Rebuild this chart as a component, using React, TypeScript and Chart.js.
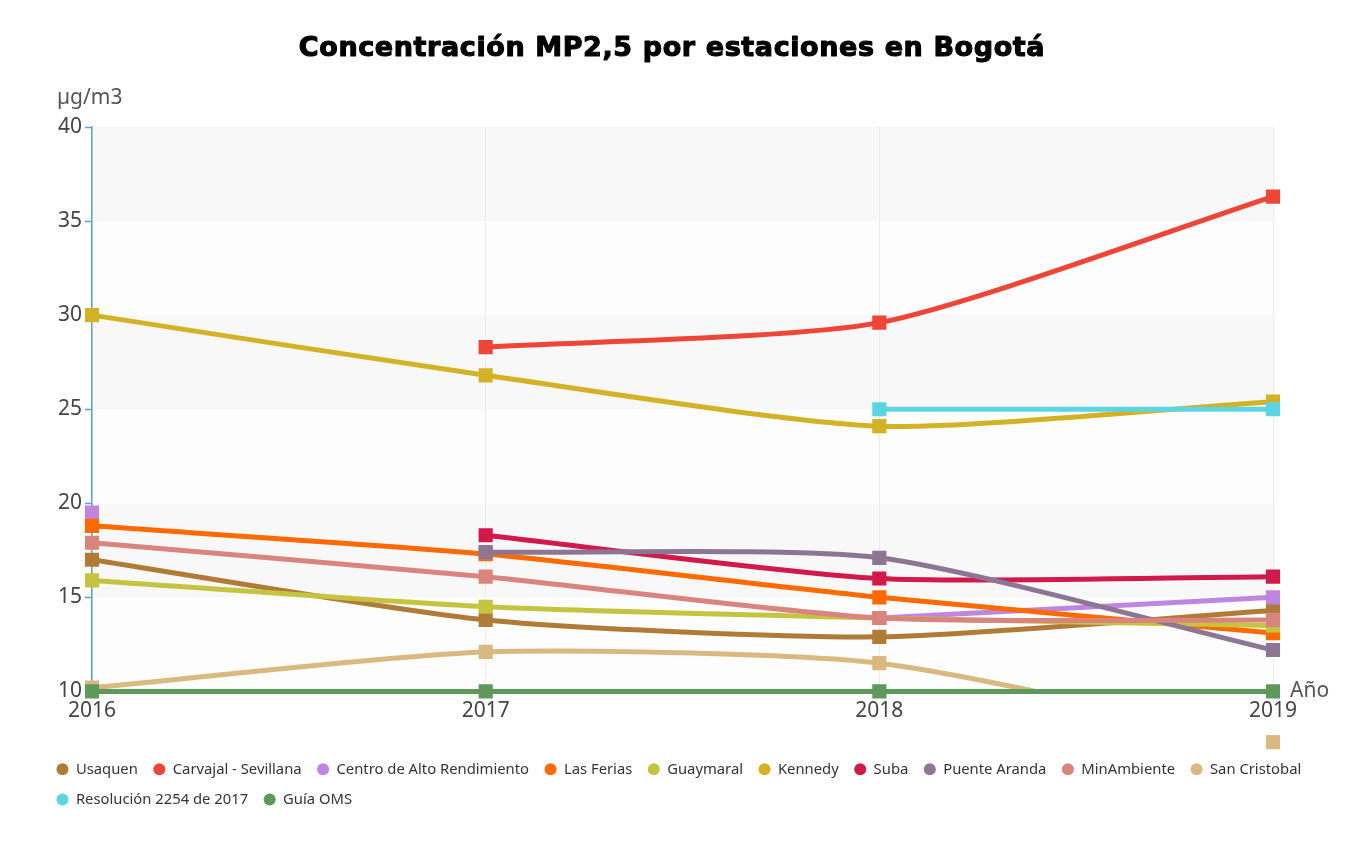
import React, { useEffect, useRef } from "react";
import { Chart, registerables } from "chart.js";

Chart.register(...registerables);

// Annual PM2.5 means per monitoring station (µg/m3)
const years = ["2016", "2017", "2018", "2019"];

const usaquen = [17.0, 13.8, 12.9, 14.3];
const carvajal = [null, 28.3, 29.6, 36.3];
const centroAltoRendimiento = [19.5, null, 13.9, 15.0];
const lasFerias = [18.8, 17.3, 15.0, 13.1];
const guaymaral = [15.9, 14.5, 13.9, 13.5];
const kennedy = [30.0, 26.8, 24.1, 25.4];
const suba = [null, 18.3, 16.0, 16.1];
const puenteAranda = [null, 17.4, 17.1, 12.2];
const minAmbiente = [17.9, 16.1, 13.9, 13.8];
const sanCristobal = [10.2, 12.1, 11.5, 7.3];
const resolucion2254 = [null, null, 25.0, 25.0];
const guiaOms = [10, 10, 10, 10];

const yTicks = [10, 15, 20, 25, 30, 35, 40];

const seriesNames = [
  "Usaquen",
  "Carvajal - Sevillana",
  "Centro de Alto Rendimiento",
  "Las Ferias",
  "Guaymaral",
  "Kennedy",
  "Suba",
  "Puente Aranda",
  "MinAmbiente",
  "San Cristobal",
  "Resolución 2254 de 2017",
  "Guía OMS",
];
const seriesValues = [
  usaquen,
  carvajal,
  centroAltoRendimiento,
  lasFerias,
  guaymaral,
  kennedy,
  suba,
  puenteAranda,
  minAmbiente,
  sanCristobal,
  resolucion2254,
  guiaOms,
];
const seriesColors = [
  "#b07b36",
  "#ef4537",
  "#c085e0",
  "#ff6a00",
  "#c5c440",
  "#d4b226",
  "#d1194a",
  "#8c7693",
  "#d9857e",
  "#d9b97f",
  "#5cd5e3",
  "#5e985a",
];

const TITLE = "Concentración MP2,5 por estaciones en Bogotá";
const Y_NAME = "µg/m3";
const X_NAME = "Año";

// Alternating horizontal bands behind the plot
const bandsPlugin = {
  id: "bands",
  beforeDraw(chart: any) {
    const { ctx, chartArea, scales } = chart;
    const y = scales.y;
    ctx.save();
    for (let i = 0; i < yTicks.length - 1; i++) {
      const top = y.getPixelForValue(yTicks[i + 1]);
      const bottom = y.getPixelForValue(yTicks[i]);
      ctx.fillStyle = i % 2 === 0 ? "#fdfdfd" : "#f8f8f8";
      ctx.fillRect(chartArea.left, top, chartArea.right - chartArea.left, bottom - top);
    }
    ctx.restore();
  },
};

// Markers of San Cristobal that fall below the axis range stay visible
const overflowPointsPlugin = {
  id: "overflowPoints",
  afterDatasetsDraw(chart: any) {
    const idx = seriesNames.indexOf("San Cristobal");
    const meta = chart.getDatasetMeta(idx);
    const area = { left: 0, top: 0, right: chart.width, bottom: chart.height };
    meta.data.forEach((p: any) => {
      const { y } = p.getProps(["y"], true);
      if (y > chart.chartArea.bottom + 8) p.draw(chart.ctx, area);
    });
  },
};

// Title and axis names
const textPlugin = {
  id: "texts",
  afterDraw(chart: any) {
    const { ctx, chartArea } = chart;
    ctx.save();
    ctx.fillStyle = "#000";
    ctx.strokeStyle = "#000";
    ctx.lineWidth = 1.1;
    ctx.lineJoin = "round";
    ctx.font = 'bold 27px "DejaVu Sans"';
    (ctx as any).letterSpacing = "0.6px";
    ctx.textAlign = "center";
    ctx.textBaseline = "alphabetic";
    ctx.fillText(TITLE, 664, 48);
    ctx.strokeText(TITLE, 664, 48);
    (ctx as any).letterSpacing = "0px";

    ctx.fillStyle = "#555";
    ctx.font = '21px "Noto Sans"';
    ctx.textAlign = "left";
    ctx.fillText(Y_NAME, 49, 96);
    ctx.fillText(X_NAME, chartArea.right + 17, chartArea.bottom + 6);
    ctx.restore();
  },
};

export default function App() {
  const canvasRef = useRef<HTMLCanvasElement | null>(null);

  useEffect(() => {
    const canvas = canvasRef.current;
    if (!canvas) return;
    const n = seriesNames.length;
    const datasets = seriesNames.map((name, i) => ({
      label: name,
      data: seriesValues[i],
      borderColor: seriesColors[i],
      backgroundColor: seriesColors[i],
      borderWidth: 5,
      tension: 0.22,
      pointStyle: "rect",
      pointRadius: 10,
      pointBorderWidth: 0,
      pointHoverRadius: 10,
      spanGaps: false,
      fill: false,
      order: n - i,
      clip: {
        left: 10,
        right: 10,
        top: 10,
        bottom: name === "San Cristobal" ? 1 : 10,
      },
    }));

    const chart = new Chart(canvas, {
      type: "line",
      data: { labels: years, datasets },
      plugins: [bandsPlugin, overflowPointsPlugin, textPlugin],
      options: {
        animation: false,
        responsive: false,
        devicePixelRatio: 1,
        layout: { padding: { left: 33, right: 20, top: 119, bottom: 20 } },
        plugins: {
          title: { display: false },
          tooltip: { enabled: false },
          legend: {
            position: "bottom",
            align: "start",
            labels: {
              usePointStyle: true,
              pointStyle: "circle",
              pointStyleWidth: 12,
              boxHeight: 8.5,
              padding: 15.5,
              color: "#333",
              font: { family: '"Noto Sans"', size: 14.8 },
              generateLabels(chart: any) {
                const items = Chart.defaults.plugins.legend.labels.generateLabels(chart);
                return items
                  .sort((a: any, b: any) => a.datasetIndex - b.datasetIndex)
                  .map((it: any) => ({
                    ...it,
                    lineWidth: 0,
                    pointStyle: "circle",
                    fillStyle: seriesColors[it.datasetIndex],
                    strokeStyle: seriesColors[it.datasetIndex],
                  }));
              },
            },
          },
        },
        scales: {
          x: {
            type: "category",
            offset: false,
            grid: { color: "#ececec", lineWidth: 1, drawTicks: false },
            border: { display: false },
            ticks: {
              color: "#444",
              padding: 7,
              font: { family: '"Noto Sans"', size: 21 },
              maxRotation: 0,
            },
            afterFit(scale: any) {
              scale.height = 55;
              scale.paddingRight = 82;
            },
          },
          y: {
            min: 10,
            max: 40,
            grid: {
              drawOnChartArea: false,
              drawTicks: true,
              tickLength: 7,
              tickColor: "#5ba4c7",
              tickWidth: 1.5,
            },
            border: { display: true, color: "#5ba4c7", width: 1.5 },
            ticks: {
              stepSize: 5,
              color: "#444",
              padding: 3,
              font: { family: '"Noto Sans"', size: 21 },
            },
            afterFit(scale: any) {
              scale.width = 51;
            },
          },
        },
      },
    } as any);

    return () => chart.destroy();
  }, []);

  return (
    <div style={{ width: 1347, height: 829 }}>
      <canvas ref={canvasRef} width={1347} height={829} />
    </div>
  );
}
